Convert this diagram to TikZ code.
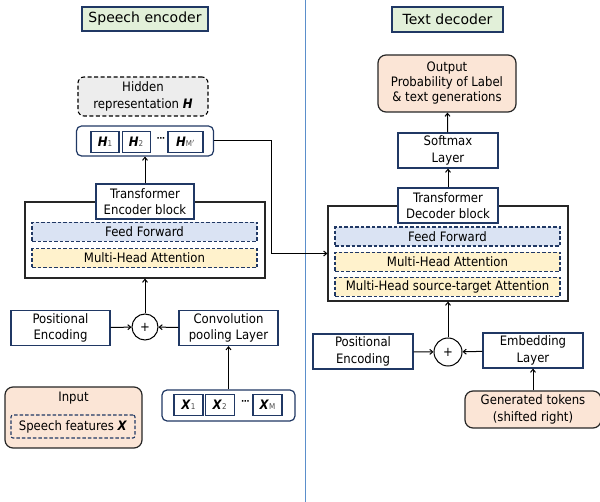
\documentclass[tikz,border=0pt]{standalone}
\usepackage{fontspec}
\setmainfont{DejaVu Sans Condensed}
\newfontfamily\titlefont{DejaVu Sans}
\usetikzlibrary{positioning,arrows.meta}

\definecolor{navy}{HTML}{203864}
\definecolor{titlegreen}{HTML}{E2F0D9}
\definecolor{peach}{HTML}{FBE5D6}
\definecolor{ffblue}{HTML}{DAE3F3}
\definecolor{attyellow}{HTML}{FFF2CC}
\definecolor{hidgray}{HTML}{EDEDED}
\definecolor{divblue}{HTML}{5B8FCB}

\newcommand{\vecH}{\textbf{\textit{H}}}
\newcommand{\vecX}{\textbf{\textit{X}}}
\newcommand{\subidx}[1]{{\fontsize{8}{8}\selectfont\color{black!70}#1}}
\newcommand{\seqdots}{{\bfseries\fontsize{9}{9}\selectfont ⋯}}

\begin{document}
\begin{tikzpicture}[
    x=1pt, y=-1pt,
    every node/.style={font=\fontsize{13}{16.5}\selectfont},
    title/.style={draw=navy, line width=1.2pt, fill=titlegreen, inner sep=0pt, font=\titlefont\fontsize{14}{16}\selectfont},
    box/.style={draw=navy, line width=1.2pt, fill=white, align=center, inner sep=1pt, minimum width=99pt, minimum height=35pt},
    block/.style={draw=black!85, line width=1.2pt, minimum width=240pt},
    layer/.style={draw=navy, line width=1.1pt, dash pattern=on 3.5pt off 2pt, minimum width=225pt, minimum height=19pt, inner sep=0pt},
    seq/.style={draw=navy, line width=1.2pt, rounded corners=5pt, minimum height=30pt},
    elem/.style={draw=navy, line width=1.1pt, inner sep=0pt, minimum height=21pt},
    peachbox/.style={draw=black!85, line width=1.2pt, fill=peach, rounded corners=8pt, align=center, inner sep=0pt},
    plus/.style={circle, draw, line width=1pt, inner sep=0pt},
    arr/.style={-{Straight Barb[length=3pt,width=5pt]}, line width=1pt}
]
\useasboundingbox (0,0) rectangle (600,502);

% divider
\draw[divblue, semithick] (305,0) -- (305,502);

% ----- speech encoder -----
\node[title, minimum width=126pt, minimum height=24pt] (enctitle) at (145,19) {Speech encoder};

\node[draw, line width=1.1pt, dash pattern=on 4pt off 2.5pt, fill=hidgray, rounded corners=6pt, align=center,
      minimum width=130pt, minimum height=39pt, inner sep=0pt] (hidden) at (143,96.5)
      {Hidden\\representation \vecH};

\node[seq, minimum width=137pt] (hseq) at (145,141) {};
\node[elem, minimum width=28pt] (h1) at (105,142) {\vecH\subidx{1}};
\node[elem, minimum width=28pt, right=2pt of h1] (h2) {\vecH\subidx{2}};
\node (hdots) at (161,140) {\seqdots};
\node[elem, minimum width=35pt] (hm) at (185.5,142) {\vecH\subidx{M$'$}};

\node[block, minimum height=76pt] (encblock) at (145,240) {};
\node[box, minimum width=98pt] (enclabel) at (145,201.5) {Transformer\\Encoder block};
\node[layer, fill=ffblue] (encff) at (144.5,232) {Feed Forward};
\node[layer, fill=attyellow, below=6pt of encff] (encmha) {Multi-Head Attention};

\node[box] (encpos) at (60.5,328) {Positional\\Encoding};
\node[plus, minimum size=26pt] (encplus) at (145,327) {+};
\node[box] (conv) at (228.5,328) {Convolution\\pooling Layer};

\node[seq, minimum width=133pt, minimum height=31pt] (xseq) at (228.5,405.5) {};
\node[elem, minimum width=29pt] (x1) at (188.5,405) {\vecX\subidx{1}};
\node[elem, minimum width=29pt, right=1pt of x1] (x2) {\vecX\subidx{2}};
\node (xdots) at (245.5,403) {\seqdots};
\node[elem, minimum width=29pt] (xm) at (267.5,405) {\vecX\subidx{M}};

\node[peachbox, minimum width=137pt, minimum height=61pt] (input) at (73.5,417.5) {};
\node (inputlbl) at (73.5,398) {Input};
\node[draw=navy, line width=1.1pt, dash pattern=on 3.5pt off 2pt, minimum width=124pt, minimum height=23pt,
      inner sep=0pt, rounded corners=2pt] (feat) at (73,426.5) {Speech features \vecX};

% ----- text decoder -----
\node[title, minimum width=111pt, minimum height=25pt] (dectitle) at (447.5,19.5) {Text decoder};

\node[peachbox, minimum width=138pt, minimum height=57pt, font=\fontsize{13}{15}\selectfont] (output) at (447,83.5)
      {Output\\Probability of Label\\\& text generations};
\node[box, minimum width=100pt] (softmax) at (448,150.5) {Softmax\\Layer};

\node[block, minimum height=95pt] (decblock) at (448,253.5) {};
\node[box, minimum width=100pt] (declabel) at (448,205.5) {Transformer\\Decoder block};
\node[layer, fill=ffblue] (decff) at (447.5,236.5) {Feed Forward};
\node[layer, fill=attyellow, below=5pt of decff] (decmha) {Multi-Head Attention};
\node[layer, fill=attyellow, below=5pt of decmha] (decsta) {Multi-Head source-target Attention};

\node[box, minimum width=100pt] (decpos) at (363,351.5) {Positional\\Encoding};
\node[plus, minimum size=28pt] (decplus) at (448,352) {+};
\node[box, minimum width=100pt] (embed) at (533,350.5) {Embedding\\Layer};
\node[peachbox, minimum width=136pt, minimum height=37pt] (gen) at (533,409.5)
      {Generated tokens\\(shifted right)};

% connectors
\draw[arr] (xseq) -- (conv);
\draw[arr] (encpos) -- (encplus);
\draw[arr] (conv) -- (encplus);
\draw[arr] (encplus) -- (encblock);
\draw[arr] (enclabel) -- (hseq);
\draw[arr] (hseq.east) -- ++(57,0) |- (decblock.west);

\draw[arr] (gen) -- (embed);
\draw[arr] (decpos) -- (decplus);
\draw[arr] (embed) -- (decplus);
\draw[arr] (decplus) -- (decblock);
\draw[arr] (declabel) -- (softmax);
\draw[arr] (softmax) -- (output);

\end{tikzpicture}
\end{document}
